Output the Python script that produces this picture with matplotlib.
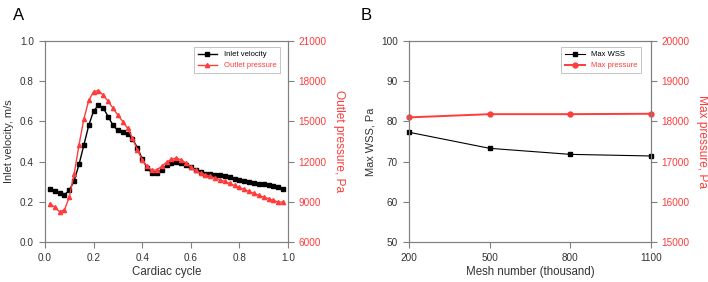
import matplotlib.pyplot as plt
import numpy as np

plt.rcParams['font.family'] = ['Liberation Sans', 'DejaVu Sans']

RED = "#ff3b3b"
GREY = "#808080"
TXT = "#333333"

# Panel A: cardiac cycle
cycle = [round(0.02 * i, 2) for i in range(1, 50)]
inlet_velocity = [
    0.265, 0.255, 0.242, 0.235, 0.257, 0.305, 0.386, 0.483, 0.580, 0.652,
    0.680, 0.666, 0.624, 0.580, 0.555, 0.546, 0.538, 0.513, 0.470, 0.414,
    0.368, 0.344, 0.344, 0.359, 0.381, 0.394, 0.397, 0.392, 0.382, 0.371,
    0.358, 0.346, 0.339, 0.336, 0.334, 0.331, 0.326, 0.321, 0.313, 0.308,
    0.303, 0.300, 0.296, 0.291, 0.288, 0.283, 0.280, 0.272, 0.265,
]
outlet_pressure = [
    8850, 8600, 8260, 8400, 9350, 11090, 13250, 15190, 16560, 17220,
    17300, 16950, 16500, 15980, 15460, 14990, 14490, 13750, 12880, 12130,
    11640, 11340, 11390, 11640, 11940, 12180, 12260, 12130, 11890, 11590,
    11340, 11140, 11020, 10890, 10790, 10640, 10520, 10370, 10220, 10070,
    9920, 9770, 9630, 9480, 9350, 9230, 9100, 8980, 8980,
]

# Panel B: mesh independence
mesh = [200, 500, 800, 1100]
max_wss = [77.3, 73.3, 71.8, 71.4]
max_pressure = [18100, 18180, 18180, 18190]


def style_axes(ax, ax2):
    for sp in list(ax.spines.values()) + list(ax2.spines.values()):
        sp.set_color(GREY)
        sp.set_linewidth(0.8)
    ax.tick_params(axis="both", colors=GREY, labelcolor=TXT, labelsize=7.2,
                   length=4, width=0.8, direction="out", pad=4)
    ax2.tick_params(axis="y", colors=GREY, labelcolor=RED, labelsize=7.2,
                    length=4, width=0.8, direction="out", pad=3.5)


def add_legend(ax, handles, anchor):
    leg = ax.legend(handles=handles, loc="upper right", fontsize=5.5,
                    frameon=True, fancybox=False, edgecolor="#aaaaaa",
                    borderpad=0.5, handlelength=2.6, borderaxespad=0,
                    bbox_to_anchor=anchor)
    leg.get_frame().set_linewidth(0.6)
    leg.get_texts()[1].set_color(RED)
    return leg


fig = plt.figure(figsize=(7.08, 2.82), dpi=100)

# ---- A ----
axA = fig.add_axes([45 / 708, 40 / 282, 243 / 708, 201 / 282])
axA2 = axA.twinx()
style_axes(axA, axA2)
lA1, = axA.plot(cycle, inlet_velocity, color="black", lw=1.0, marker="s",
                ms=3, label="Inlet velocity")
lA2, = axA2.plot(cycle, outlet_pressure, color=RED, lw=1.0, marker="^",
                 ms=3, label="Outlet pressure")
axA.set_xlim(0, 1)
axA.set_ylim(0, 1)
axA.set_xticks(np.arange(0, 1.01, 0.2))
axA.set_yticks(np.arange(0, 1.01, 0.2))
axA.xaxis.set_major_formatter(plt.FormatStrFormatter("%.1f"))
axA.yaxis.set_major_formatter(plt.FormatStrFormatter("%.1f"))
axA2.set_ylim(6000, 21000)
axA2.set_yticks(range(6000, 21001, 3000))
axA.set_xlabel("Cardiac cycle", fontsize=8.3, color=TXT, labelpad=2)
axA.set_ylabel("Inlet velocity, m/s", fontsize=7.9, color=TXT, labelpad=4)
axA2.set_ylabel("Outlet pressure, Pa", fontsize=8.6, color=RED, labelpad=5,
                rotation=270, va="bottom")
add_legend(axA, [lA1, lA2], (0.967, 0.97))
fig.text(13 / 708, 1 - 16 / 282, "A", fontsize=12, va="center", ha="left")

# ---- B ----
axB = fig.add_axes([409 / 708, 40 / 282, 242 / 708, 201 / 282])
axB2 = axB.twinx()
style_axes(axB, axB2)
lB1, = axB.plot(mesh, max_wss, color="black", lw=0.8, marker="s", ms=3.5,
                label="Max WSS", clip_on=False)
lB2, = axB2.plot(mesh, max_pressure, color=RED, lw=1.4, marker="o", ms=3.5,
                 label="Max pressure", clip_on=False)
axB.set_xlim(200, 1100)
axB.set_xticks(mesh)
axB.set_ylim(50, 100)
axB.set_yticks(range(50, 101, 10))
axB2.set_ylim(15000, 20000)
axB2.set_yticks(range(15000, 20001, 1000))
axB.set_xlabel("Mesh number (thousand)", fontsize=8.3, color=TXT, labelpad=2)
axB.set_ylabel("Max WSS, Pa", fontsize=7.9, color=TXT, labelpad=4)
axB2.set_ylabel("Max pressure, Pa", fontsize=8.6, color=RED, labelpad=5,
                rotation=270, va="bottom")
add_legend(axB, [lB1, lB2], (0.959, 0.97))
fig.text(361 / 708, 1 - 16 / 282, "B", fontsize=12, va="center", ha="left")

fig.savefig("out.png", dpi=100)
